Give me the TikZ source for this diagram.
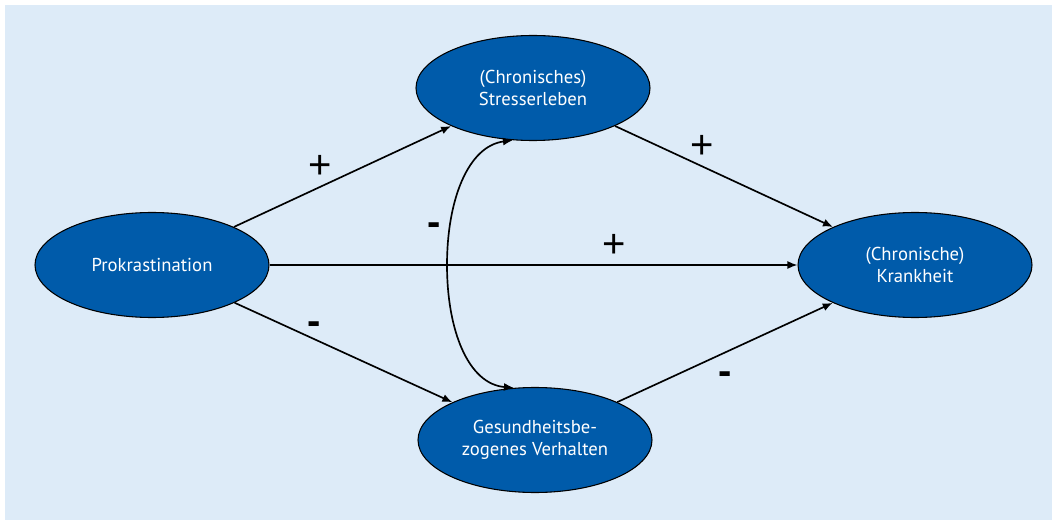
\documentclass[tikz,border=0pt]{standalone}
\usepackage{fontspec}
\setmainfont{PT Sans}
\newfontfamily\signfont{Liberation Sans}
\usetikzlibrary{shapes.geometric,arrows.meta}
\definecolor{bgblue}{RGB}{221,235,248}
\definecolor{nodeblue}{RGB}{0,91,170}
\begin{document}
\begin{tikzpicture}[x=0.75pt,y=-0.75pt,
  ell/.style={ellipse,draw=black,line width=0.8pt,fill=nodeblue,text=white,
    minimum width=175.5pt,minimum height=78.75pt,inner sep=0pt,align=center,
    font=\fontsize{14}{16.5}\selectfont},
  arr/.style={line width=1.25pt,-{Latex[length=7.5pt,width=6pt]}},
  biarr/.style={line width=1.25pt,{Latex[length=7.5pt,width=6pt]}-{Latex[length=7.5pt,width=6pt]}},
  sign/.style={font=\signfont\fontsize{30}{30}\selectfont,inner sep=0pt},
  minus/.style={font=\signfont\bfseries\fontsize{30}{30}\selectfont,inner sep=0pt}]
\useasboundingbox (0,0) rectangle (1052,520);
\fill[bgblue] (5,5) rectangle (1052,520);

\node[ell] (pro) at (152,265) {Prokrastination};
\node[ell] (str) at (533,88) {(Chronisches)\\Stresserleben};
\node[ell] (ges) at (535,440) {Gesundheitsbe-\\zogenes Verhalten};
\node[ell] (kra) at (915,265) {(Chronische)\\Krankheit};

\draw[arr] (pro) -- (str);
\draw[arr] (str) -- (kra);
\draw[arr] (pro) -- (kra);
\draw[arr] (pro) -- (ges);
\draw[arr] (ges) -- (kra);
\draw[biarr] (str.249) .. controls (468,146) and (447,200) .. (447,265)
  .. controls (447,330) and (468,384) .. (ges.112);

\node[sign] (s1) at (320,167) {+};
\node[sign] (s2) at (702,147) {+};
\node[sign] (s3) at (614,246) {+};
\node[minus] (s4) at (434,229) {-};
\node[minus] (s5) at (314,328) {-};
\node[minus] (s6) at (725,378) {-};
\end{tikzpicture}
\end{document}
